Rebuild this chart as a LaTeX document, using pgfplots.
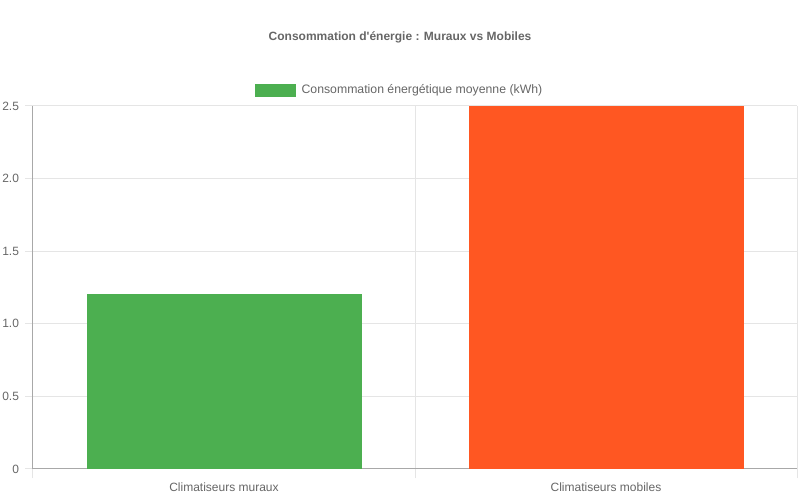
\documentclass[border=0pt]{standalone}
\usepackage{pgfplots}
\pgfplotsset{compat=1.18}
\usepackage{fontspec}
\setmainfont{Liberation Sans}
\definecolor{txt}{HTML}{666666}
\definecolor{gridc}{HTML}{E5E5E5}
\definecolor{axc}{HTML}{A8A8A8}
\definecolor{barg}{HTML}{4CAF50}
\definecolor{baro}{HTML}{FF5722}
\begin{document}
\begin{tikzpicture}
\path[use as bounding box] (0pt,0pt) rectangle (600pt,375pt);
\begin{axis}[
  at={(24.75pt,23.25pt)}, anchor=south west,
  scale only axis,
  width=573pt, height=272.25pt,
  /pgf/number format/assume math mode=true,
  ybar, bar width=0.717, bar shift=0pt,
  xmin=-0.5, xmax=1.5,
  ymin=0, ymax=2.5,
  xtick={0,1},
  xticklabels={Climatiseurs muraux, Climatiseurs mobiles},
  minor xtick={-0.5,0.5,1.5},
  ytick={0,0.5,1,1.5,2,2.5},
  yticklabels={0,0.5,1.0,1.5,2.0,2.5},
  major x tick style={draw=none},
  tick align=outside,
  major tick length=6pt,
  minor tick length=7pt,
  tick style={color=gridc, line width=0.75pt},
  minor tick style={color=gridc},
  ymajorgrids, xminorgrids,
  grid style={color=gridc, line width=0.75pt},
  minor grid style={color=gridc, line width=0.75pt},
  axis line style={color=axc, line width=0.75pt},
  axis x line*=bottom, axis y line*=left,
  separate axis lines,
  xticklabel style={font=\fontsize{9}{11}\selectfont, text=txt, yshift=-0.5pt},
  yticklabel style={font=\fontsize{9}{11}\selectfont, text=txt, xshift=-1pt},
  every axis title shift=0pt,
  title={Consommation d\textquotesingle énergie : Muraux vs Mobiles},
  title style={at={(0.4804,1.188)}, anchor=center, font=\bfseries\fontsize{9}{11}\selectfont, text=txt},
  legend style={at={(0.4804,1.044)}, anchor=center, draw=none, fill=none,
    font=\fontsize{9.2}{11}\selectfont, text=txt,
    /tikz/every even column/.append style={column sep=2pt}},
  legend image code/.code={\fill[#1] (-1pt,-4.5pt) rectangle (29pt,4.5pt);},
]
\addplot[fill=barg, draw=barg] coordinates {(0,1.2)};
\addlegendentry{\hspace{2.5pt}Consommation énergétique moyenne (kWh)}
\addplot[fill=baro, draw=baro, forget plot] coordinates {(1,2.5)};
\end{axis}
\end{tikzpicture}
\end{document}
